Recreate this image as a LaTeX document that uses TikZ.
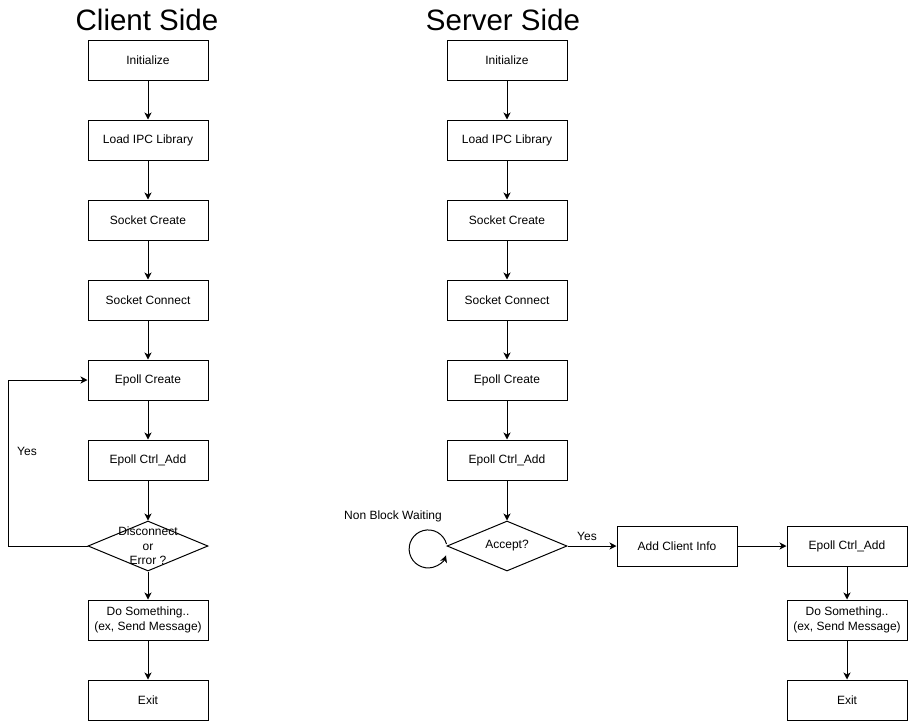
\documentclass[tikz,border=0pt]{standalone}
\usepackage{fontspec}
\setmainfont{Liberation Sans}
\usetikzlibrary{shapes.geometric,arrows.meta}
\begin{document}
\begin{tikzpicture}[x=1pt,y=-1pt,
  box/.style={draw,line width=1pt,minimum width=120pt,minimum height=40pt,inner sep=0pt,align=center,font=\fontsize{12}{14.5}\selectfont},
  dia/.style={draw,line width=1pt,diamond,minimum width=120pt,minimum height=50pt,inner sep=0pt},
  arr/.style={line width=1pt,-{Stealth[length=7pt,width=7pt,inset=2pt]}},
  lbl/.style={font=\fontsize{12}{14.5}\selectfont,inner sep=0pt},
  ttl/.style={font=\fontsize{29.5}{34}\selectfont,inner sep=0pt,anchor=base}]
\useasboundingbox (0,0) rectangle (908,721);
% titles
\node[ttl] (tc) at (147,30) {Client Side};
\node[ttl] (ts) at (503,30) {Server Side};
% client
\node[box] (c1) at (148,60) {Initialize};
\node[box] (c2) at (148,140) {Load IPC Library};
\node[box] (c3) at (148,220) {Socket Create};
\node[box] (c4) at (148,300) {Socket Connect};
\node[box] (c5) at (148,380) {Epoll Create};
\node[box] (c6) at (148,460) {Epoll Ctrl\_Add};
\node[dia] (c7) at (148,546) {};
\node[lbl,align=center] (c7t) at (148,546) {Disconnect\\or\\Error ?};
\node[box] (c8) at (148,620) {Do Something..\\(ex, Send Message)};
\node[box] (c9) at (148,700) {Exit};
\foreach \a/\b in {c1/c2,c2/c3,c3/c4,c4/c5,c5/c6,c6/c7,c7/c8,c8/c9}
  \draw[arr] (\a) -- (\b);
\coordinate (cl1) at (8,546);
\coordinate (cl2) at (8,380);
\draw[arr] (c7.west) -- (cl1) -- (cl2) -- (c5.west);
\node[lbl] (cy) at (27,451) {Yes};
% server
\node[box] (s1) at (507,60) {Initialize};
\node[box] (s2) at (507,140) {Load IPC Library};
\node[box] (s3) at (507,220) {Socket Create};
\node[box] (s4) at (507,300) {Socket Connect};
\node[box] (s5) at (507,380) {Epoll Create};
\node[box] (s6) at (507,460) {Epoll Ctrl\_Add};
\node[dia] (s7) at (507,546) {};
\node[lbl] (s7t) at (507,546) {Accept?};
\node[box] (s8) at (677,546) {Add Client Info};
\node[box] (s9) at (847,546) {Epoll Ctrl\_Add};
\node[box] (s10) at (847,620) {Do Something..\\(ex, Send Message)};
\node[box] (s11) at (847,700) {Exit};
\foreach \a/\b in {s1/s2,s2/s3,s3/s4,s4/s5,s5/s6,s6/s7,s7/s8,s8/s9,s9/s10,s10/s11}
  \draw[arr] (\a) -- (\b);
\node[lbl] (sy) at (587,536) {Yes};
\draw[arr] (s7.west) ++(0,-2) arc[start angle=-15,end angle=-340,radius=19];
\node[lbl] (nb) at (393,516) {Non Block Waiting};
\end{tikzpicture}
\end{document}
